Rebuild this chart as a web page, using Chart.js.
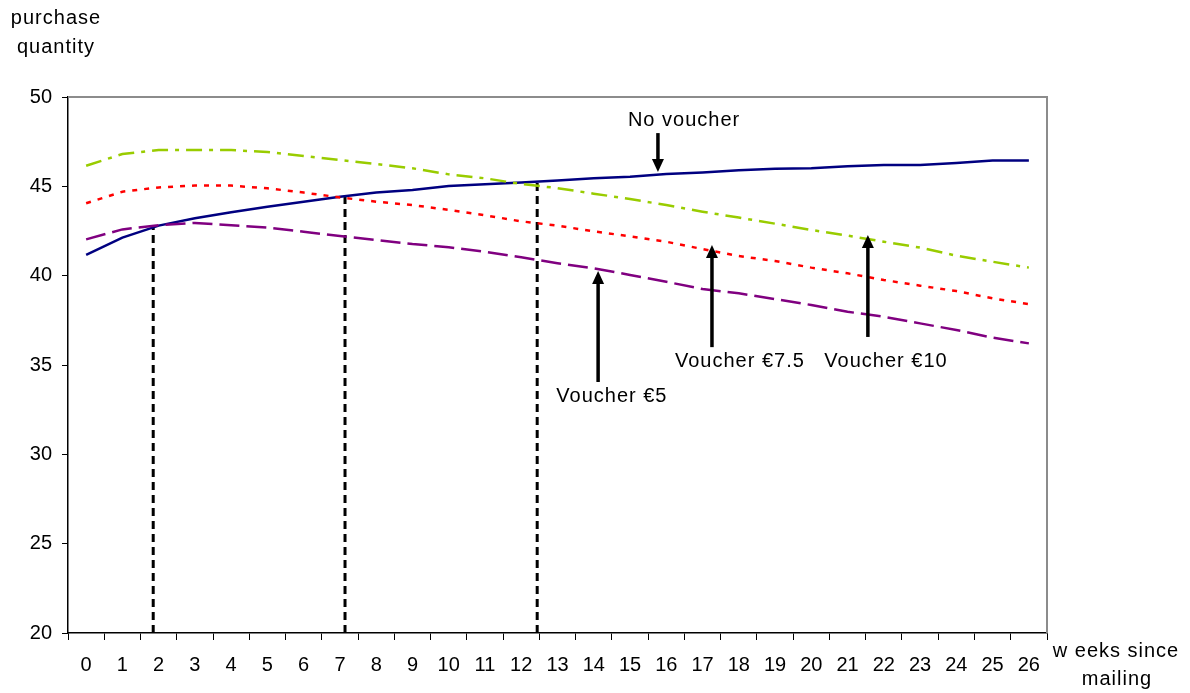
<!DOCTYPE html>
<html>
<head>
<meta charset="utf-8">
<title>purchase quantity</title>
<script src="https://cdn.jsdelivr.net/npm/chart.js@4.4.1/dist/chart.umd.min.js"></script>
<style>
  html, body { margin: 0; padding: 0; background: #fff; }
  #wrap { position: relative; width: 1190px; height: 693px; }
</style>
</head>
<body>
<div id="wrap"><canvas id="g-compra" width="1190" height="693"></canvas></div>
<script>
// semanas desde el envio (eje x)
var weeks = [0, 1, 2, 3, 4, 5, 6, 7, 8, 9, 10, 11, 12, 13, 14, 15, 16, 17, 18, 19, 20, 21, 22, 23, 24, 25, 26];
var yTicks = [20, 25, 30, 35, 40, 45, 50];

// series
var noVoucher  = [41.16, 42.13, 42.80, 43.21, 43.55, 43.86, 44.14, 44.42, 44.65, 44.80, 45.02, 45.11, 45.21, 45.32, 45.45, 45.54, 45.69, 45.78, 45.90, 45.99, 46.01, 46.12, 46.19, 46.19, 46.31, 46.44, 46.44];
var voucher5   = [42.03, 42.59, 42.82, 42.95, 42.82, 42.69, 42.46, 42.22, 42.00, 41.77, 41.59, 41.34, 41.03, 40.70, 40.41, 40.04, 39.66, 39.25, 39.01, 38.69, 38.36, 37.98, 37.70, 37.33, 36.96, 36.53, 36.21];
var voucher75  = [44.05, 44.70, 44.94, 45.04, 45.04, 44.89, 44.65, 44.38, 44.14, 43.95, 43.68, 43.38, 43.04, 42.80, 42.48, 42.20, 41.90, 41.49, 41.10, 40.82, 40.45, 40.13, 39.76, 39.44, 39.14, 38.73, 38.41];
var voucher10  = [46.15, 46.81, 47.03, 47.03, 47.03, 46.92, 46.70, 46.47, 46.25, 46.01, 45.67, 45.45, 45.13, 44.90, 44.59, 44.29, 43.95, 43.58, 43.25, 42.91, 42.56, 42.24, 41.90, 41.57, 41.12, 40.78, 40.45];

// lineas verticales punteadas (cruces con "No voucher")
var dropX   = [1.85, 7.14, 12.44];
var dropTop = [42.75, 44.50, 45.26];

// flechas y rotulos
var noteText  = ["No voucher", "Voucher €5", "Voucher €7.5", "Voucher €10"];
var noteX     = [16.49, 14.50, 18.03, 22.06];
var noteY     = [48.71, 33.26, 35.17, 35.17];
var arrowX    = [15.77, 14.12, 17.26, 21.56];
var arrowFrom = [47.98, 34.05, 36.00, 36.57];
var arrowTo   = [45.80, 40.26, 41.72, 42.28];

var FONT = "'Liberation Sans', Arial, sans-serif";

var dropSets = dropX.map(function(x, i) {
  return {
    data: [{ x: x, y: 20 }, { x: x, y: dropTop[i] }],
    borderColor: "#000", borderWidth: 3, borderDash: [8, 5],
    pointRadius: 0, fill: false
  };
});

var frameAndNotes = {
  id: "frameAndNotes",
  beforeDatasetsDraw: function(chart) {
    var c = chart.ctx, a = chart.chartArea;
    c.save();
    c.strokeStyle = "#8c8c8c"; c.lineWidth = 2;
    c.beginPath();
    c.moveTo(a.left, a.top); c.lineTo(a.right, a.top); c.lineTo(a.right, a.bottom);
    c.stroke();
    c.restore();
  },
  afterDatasetsDraw: function(chart) {
    var c = chart.ctx, sx = chart.scales.x, sy = chart.scales.y;
    c.save();
    c.fillStyle = "#000"; c.strokeStyle = "#000";
    c.font = "20px " + FONT;
    c.letterSpacing = "1px";
    c.textAlign = "center"; c.textBaseline = "middle";

    // rotulos de los ejes
    c.fillText("purchase", 56, 18);
    c.fillText("quantity", 56, 47);
    c.fillText("w eeks since", 1116, 651);
    c.fillText("mailing", 1117, 679);

    for (var i = 0; i < noteText.length; i++) {
      c.fillText(noteText[i], sx.getPixelForValue(noteX[i]), sy.getPixelForValue(noteY[i]));
      var ax = sx.getPixelForValue(arrowX[i]);
      var y0 = sy.getPixelForValue(arrowFrom[i]);
      var y1 = sy.getPixelForValue(arrowTo[i]);
      var dir = y1 > y0 ? 1 : -1, head = 13, half = 6;
      c.lineWidth = 3.5;
      c.beginPath(); c.moveTo(ax, y0); c.lineTo(ax, y1 - dir * head); c.stroke();
      c.beginPath();
      c.moveTo(ax, y1);
      c.lineTo(ax - half, y1 - dir * head);
      c.lineTo(ax + half, y1 - dir * head);
      c.closePath(); c.fill();
    }
    c.restore();
  }
};

new Chart(document.getElementById("g-compra"), {
  type: "line",
  data: {
    labels: weeks,
    datasets: [
      { label: "Voucher €10", data: voucher10, borderColor: "#99cc00", borderWidth: 2.5, borderDash: [16, 7, 4, 7], pointRadius: 0, fill: false },
      { label: "Voucher €7.5", data: voucher75, borderColor: "#ff0000", borderWidth: 2.5, borderDash: [5, 7], pointRadius: 0, fill: false },
      { label: "Voucher €5", data: voucher5, borderColor: "#800080", borderWidth: 2.5, borderDash: [20, 7], pointRadius: 0, fill: false },
      { label: "No voucher", data: noVoucher, borderColor: "#000080", borderWidth: 2.5, pointRadius: 0, fill: false }
    ].concat(dropSets)
  },
  options: {
    responsive: false, animation: false, maintainAspectRatio: false,
    layout: { padding: { top: 97, right: 143, left: 0, bottom: 0 } },
    plugins: { legend: { display: false }, tooltip: { enabled: false } },
    scales: {
      x: {
        type: "linear", min: -0.5, max: 26.5,
        afterBuildTicks: function(s) { s.ticks = weeks.map(function(v) { return { value: v }; }); },
        afterFit: function(s) { s.height = 60; },
        grid: { offset: true, drawOnChartArea: false, drawTicks: true, tickLength: 7, color: "#000", lineWidth: 1 },
        border: { color: "#000", width: 1.5 },
        ticks: { autoSkip: false, maxRotation: 0, padding: 13, color: "#000", font: { size: 20, family: FONT } }
      },
      y: {
        min: 20, max: 50,
        afterBuildTicks: function(s) { s.ticks = yTicks.map(function(v) { return { value: v }; }); },
        afterFit: function(s) { s.width = 68; },
        grid: { drawOnChartArea: false, drawTicks: true, tickLength: 6, color: "#000", lineWidth: 1 },
        border: { color: "#000", width: 1.5 },
        ticks: { padding: 10, color: "#000", font: { size: 20, family: FONT } }
      }
    }
  },
  plugins: [frameAndNotes]
});
</script>
</body>
</html>
